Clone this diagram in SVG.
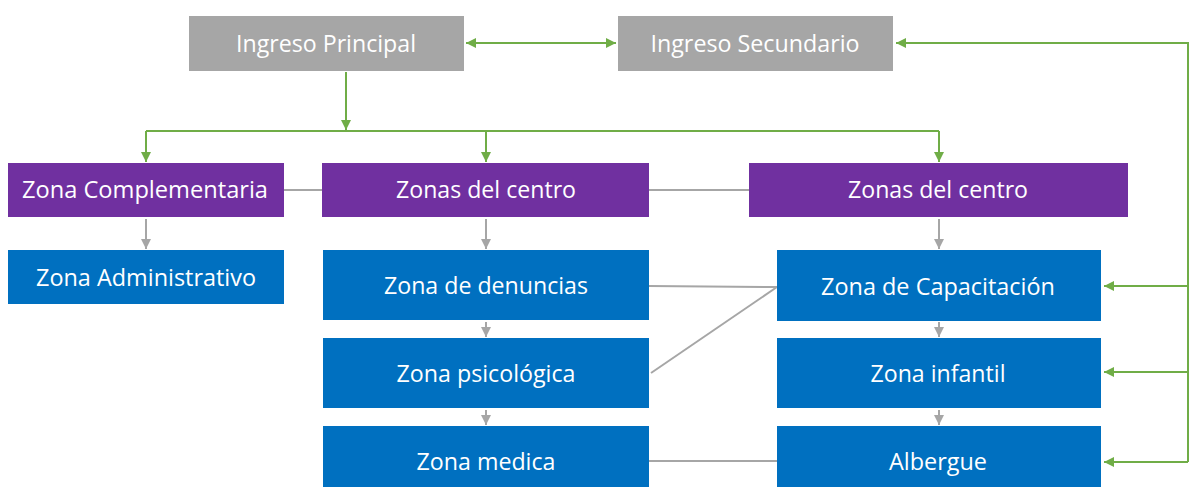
<svg xmlns="http://www.w3.org/2000/svg" width="1196" height="487" viewBox="0 0 1196 487">
<style>
.gray{fill:#A6A6A6}
.purple{fill:#7030A0}
.blue{fill:#0070C0}
text{fill:#fff;font-family:"Open Sans","Liberation Sans",sans-serif;font-size:23px;text-anchor:middle}
.g{stroke:#70AD47;stroke-width:2;fill:none}
.s{stroke:#A6A6A6;stroke-width:2;fill:none}
</style>
<defs>
<marker id="ga" viewBox="0 0 10 10" refX="10" refY="5" markerWidth="5" markerHeight="5" orient="auto-start-reverse" markerUnits="strokeWidth"><path d="M0,0L10,5L0,10z" fill="#70AD47"/></marker>
<marker id="sa" viewBox="0 0 10 10" refX="10" refY="5" markerWidth="5" markerHeight="5" orient="auto" markerUnits="strokeWidth"><path d="M0,0L10,5L0,10z" fill="#A6A6A6"/></marker>
</defs>
<g id="connectors">
<line class="g" x1="466" y1="43" x2="616" y2="43" marker-start="url(#ga)" marker-end="url(#ga)"/>
<polyline class="g" points="1188,462 1188,43 896,43" marker-end="url(#ga)"/>
<line class="g" x1="1188" y1="286" x2="1104" y2="286" marker-end="url(#ga)"/>
<line class="g" x1="1188" y1="372" x2="1104" y2="372" marker-end="url(#ga)"/>
<line class="g" x1="1188" y1="462" x2="1104" y2="462" marker-end="url(#ga)"/>
<line class="g" x1="346" y1="72" x2="346" y2="130" marker-end="url(#ga)"/>
<line class="g" x1="146" y1="131" x2="939" y2="131"/>
<line class="g" x1="146" y1="131" x2="146" y2="162" marker-end="url(#ga)"/>
<line class="g" x1="486" y1="131" x2="486" y2="162" marker-end="url(#ga)"/>
<line class="g" x1="939" y1="131" x2="939" y2="162" marker-end="url(#ga)"/>
<line class="s" x1="284" y1="190" x2="322" y2="190"/>
<line class="s" x1="649" y1="190" x2="749" y2="190"/>
<line class="s" x1="146" y1="219" x2="146" y2="249" marker-end="url(#sa)"/>
<line class="s" x1="486" y1="219" x2="486" y2="249" marker-end="url(#sa)"/>
<line class="s" x1="939" y1="219" x2="939" y2="249" marker-end="url(#sa)"/>
<line class="s" x1="486" y1="322" x2="486" y2="337" marker-end="url(#sa)"/>
<line class="s" x1="486" y1="410" x2="486" y2="425" marker-end="url(#sa)"/>
<line class="s" x1="939" y1="322" x2="939" y2="337" marker-end="url(#sa)"/>
<line class="s" x1="939" y1="410" x2="939" y2="425" marker-end="url(#sa)"/>
<line class="s" x1="649" y1="286" x2="777" y2="287"/>
<line class="s" x1="651" y1="373" x2="777" y2="287"/>
<line class="s" x1="649" y1="461" x2="777" y2="461"/>
</g>
<g id="ingreso-principal"><rect class="gray" x="189" y="16" width="275" height="55"/><text x="326" y="52" textLength="180" lengthAdjust="spacingAndGlyphs">Ingreso Principal</text></g>
<g id="ingreso-secundario"><rect class="gray" x="618" y="16" width="275" height="55"/><text x="755" y="52" textLength="209" lengthAdjust="spacingAndGlyphs">Ingreso Secundario</text></g>
<g id="zona-complementaria"><rect class="purple" x="8" y="163" width="276" height="54"/><text x="145" y="198" textLength="246" lengthAdjust="spacingAndGlyphs">Zona Complementaria</text></g>
<g id="zonas-centro-1"><rect class="purple" x="322" y="163" width="327" height="54"/><text x="486" y="198" textLength="180" lengthAdjust="spacingAndGlyphs">Zonas del centro</text></g>
<g id="zonas-centro-2"><rect class="purple" x="749" y="163" width="379" height="54"/><text x="938" y="198" textLength="180" lengthAdjust="spacingAndGlyphs">Zonas del centro</text></g>
<g id="zona-administrativo"><rect class="blue" x="8" y="250" width="276" height="54"/><text x="146" y="286" textLength="220" lengthAdjust="spacingAndGlyphs">Zona Administrativo</text></g>
<g id="zona-denuncias"><rect class="blue" x="323" y="250" width="326" height="70"/><text x="486" y="294" textLength="204" lengthAdjust="spacingAndGlyphs">Zona de denuncias</text></g>
<g id="zona-psicologica"><rect class="blue" x="323" y="338" width="326" height="70"/><text x="486" y="382" textLength="179" lengthAdjust="spacingAndGlyphs">Zona psicológica</text></g>
<g id="zona-medica"><rect class="blue" x="323" y="426" width="326" height="61"/><text x="486" y="470" textLength="139" lengthAdjust="spacingAndGlyphs">Zona medica</text></g>
<g id="zona-capacitacion"><rect class="blue" x="777" y="250" width="324" height="71"/><text x="938" y="295" textLength="234" lengthAdjust="spacingAndGlyphs">Zona de Capacitación</text></g>
<g id="zona-infantil"><rect class="blue" x="777" y="338" width="324" height="70"/><text x="938" y="382" textLength="135" lengthAdjust="spacingAndGlyphs">Zona infantil</text></g>
<g id="albergue"><rect class="blue" x="777" y="426" width="324" height="61"/><text x="938" y="470" textLength="98" lengthAdjust="spacingAndGlyphs">Albergue</text></g>
</svg>
